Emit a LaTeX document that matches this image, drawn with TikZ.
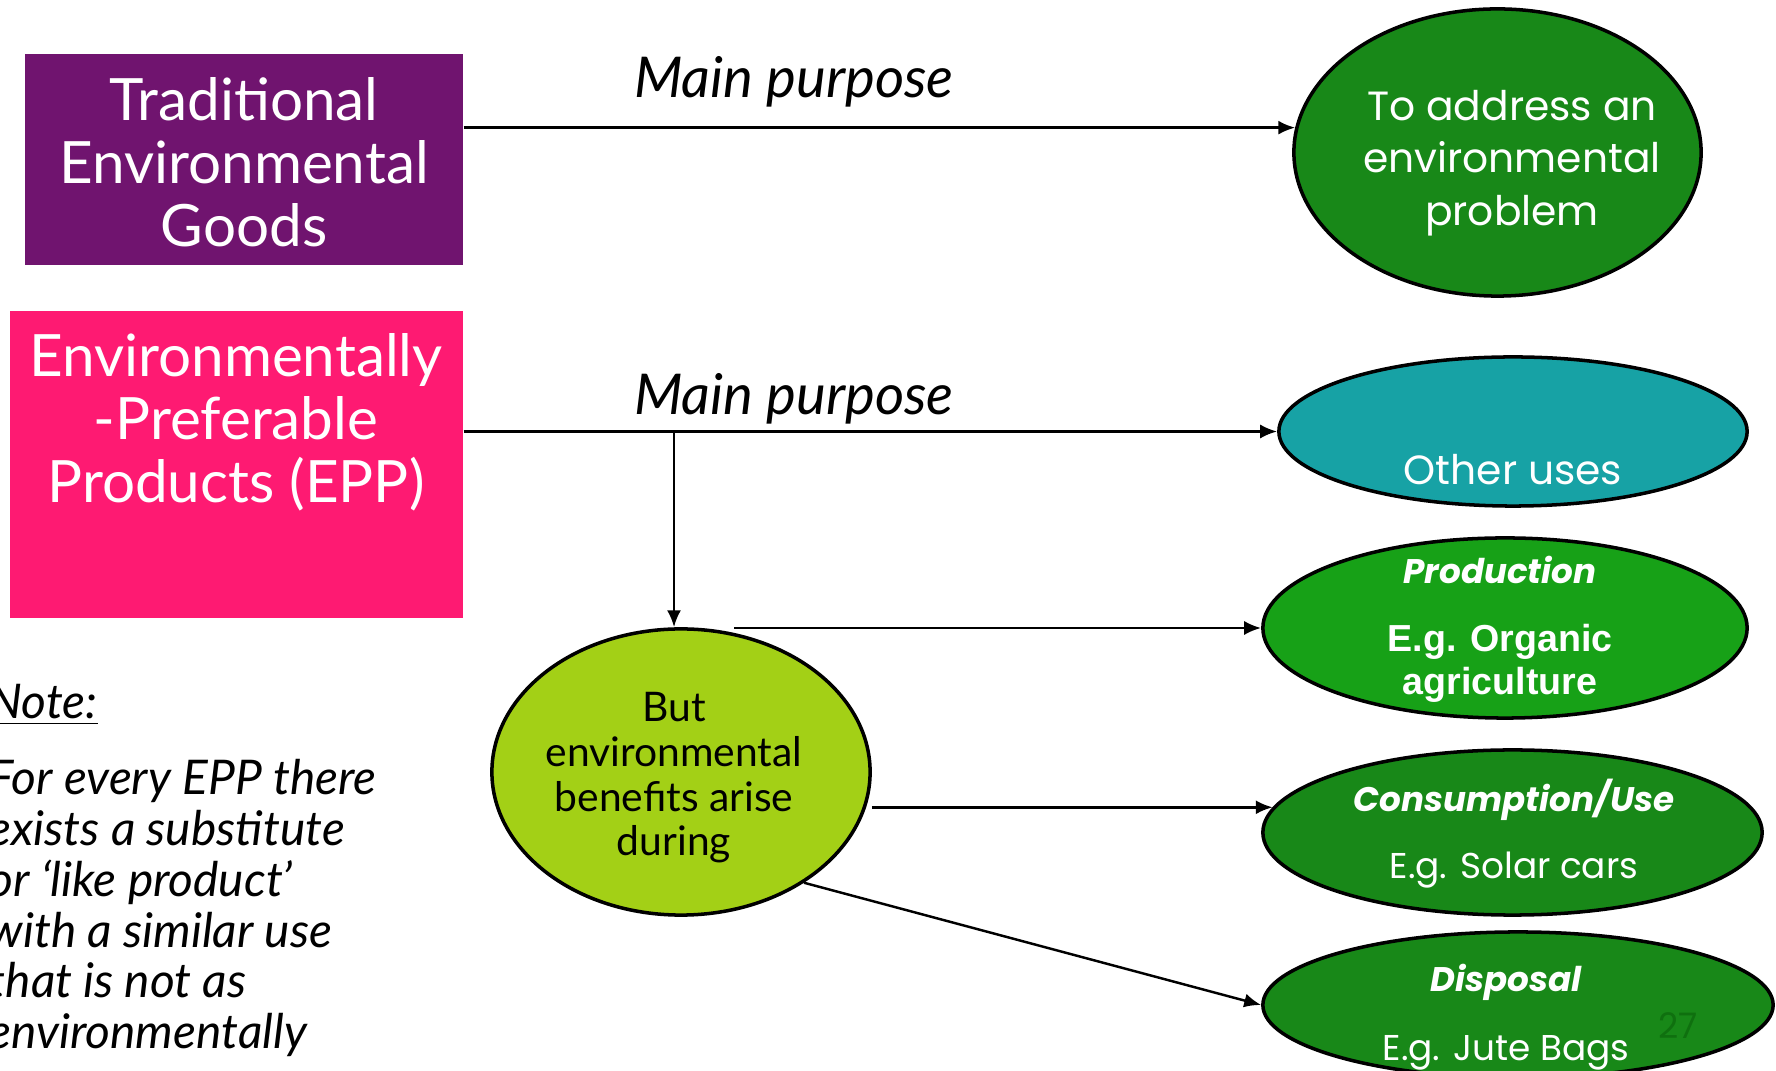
\documentclass[tikz,border=0pt]{standalone}
\usepackage{fontspec}
\usetikzlibrary{shapes.geometric,arrows.meta}
\newfontfamily\twfont{Lato}
\newfontfamily\cgfont{Poppins}
\newfontfamily\arfont{Liberation Sans}
\definecolor{cPurple}{HTML}{70146F}
\definecolor{cPink}{HTML}{FE1A72}
\definecolor{cGreen}{HTML}{188818}
\definecolor{cTeal}{HTML}{17A2A5}
\definecolor{cLime}{HTML}{A3D016}
\definecolor{cProd}{HTML}{17A117}
\definecolor{cPage}{HTML}{0F700F}
\begin{document}
\begin{tikzpicture}[x=0.01cm,y=-0.01cm,
  arr/.style={draw=black,line width=0.7pt,-{Latex[length=4.8pt,width=4pt]}},
  oval/.style={ellipse,draw=black,line width=1pt,inner sep=0pt},
  boxtxt/.style={text=white,align=center,inner sep=0pt,font=\twfont\fontsize{16.6}{17.9}\selectfont},
  mp/.style={text=black,inner sep=0pt,font=\twfont\itshape\fontsize{16}{18}\selectfont},
  etxt/.style={text=white,align=center,inner sep=0pt,font=\cgfont\fontsize{11.6}{14.9}\selectfont},
  ehead/.style={text=white,align=center,inner sep=0pt,font=\cgfont\bfseries\itshape\fontsize{9.7}{12}\selectfont},
  esub/.style={text=white,align=center,inner sep=0pt,font=\cgfont\fontsize{10.2}{12}\selectfont},
  ctxt/.style={text=black,align=center,inner sep=0pt,font=\twfont\fontsize{11.6}{12.7}\selectfont},
  notetxt/.style={text=black,align=left,anchor=west,inner sep=0pt,font=\twfont\itshape\fontsize{13.6}{14.5}\selectfont}]
\useasboundingbox (0,0) rectangle (1776,1071);
\fill[white] (0,0) rectangle (1776,1071);
% boxes
\node[fill=cPurple,minimum width=4.38cm,minimum height=2.11cm,inner sep=0pt,anchor=north west] (box1) at (24,53) {};
\node[fill=cPink,minimum width=4.53cm,minimum height=3.07cm,inner sep=0pt,anchor=north west] (box2) at (9,310) {};
\node[boxtxt] (t1) at (244,162) {Traditional\\Environmental\\Goods};
\node[boxtxt] (t2) at (236,422) {Environmentally\\-Preferable\\Products (EPP)};
% labels
\node[mp] (mp1) at (794,82) {Main purpose};
\node[mp] (mp2) at (794,399) {Main purpose};
% ellipses
\node[oval,fill=cGreen,minimum width=4.07cm,minimum height=2.87cm] (e1) at (1497.5,152.5) {};
\node[oval,fill=cTeal,minimum width=4.68cm,minimum height=1.49cm] (e2) at (1513,431.5) {};
\node[oval,fill=cLime,minimum width=3.78cm,minimum height=2.86cm] (c) at (681,772) {};
\node[oval,fill=cProd,minimum width=4.84cm,minimum height=1.80cm] (e3) at (1505,628) {};
\node[oval,fill=cGreen,minimum width=4.99cm,minimum height=1.65cm] (e4) at (1512.5,832.5) {};
\node[oval,fill=cGreen,minimum width=5.10cm,minimum height=1.46cm] (e5) at (1518,1005) {};
% ellipse texts
\node[etxt] (e1t) at (1512,163) {To address an\\environmental\\problem};
\node[etxt] (e2t) at (1513,470) {Other uses};
\node[ctxt] (ct) at (674,778) {But\\environmental\\benefits arise\\during};
\node[ehead] (e3a) at (1500,570) {Production};
\node[text=white,align=center,inner sep=0pt,font=\arfont\bfseries\fontsize{10.7}{12.2}\selectfont] (e3b) at (1500,663) {E.g. Organic\\agriculture};
\node[ehead] (e4a) at (1514,800) {Consumption/Use};
\node[esub] (e4b) at (1514,870) {E.g. Solar cars};
\node[ehead] (e5a) at (1506,982) {Disposal};
\node[esub] (e5b) at (1506,1053) {E.g. Jute Bags};
\node[text=cPage,inner sep=0pt,font=\cgfont\fontsize{10}{12}\selectfont] (pg) at (1678,1026) {27};
% note
\node[notetxt] (nh) at (-12,705) {\underline{Note:}};
\node[notetxt] (nb) at (-12,908) {For every EPP there\\exists a substitute\\or ‘like product’\\with a similar use\\that is not as\\environmentally};
% connectors
\coordinate (j) at (674,432);
\draw[arr] (box1.east |- e1.173.3) -- (e1.173.3);
\draw[arr] (box2.east |- e2.west) -- (e2.west);
\draw[arr] (j) -- (j |- c.north);
\draw[arr] ([xshift=0.53cm]c.north |- e3.west) -- (e3.west);
\draw[arr] (c.east |- e4.174.6) -- (e4.174.6);
\draw[arr] (c.318.5) -- (e5.west);
\end{tikzpicture}
\end{document}
